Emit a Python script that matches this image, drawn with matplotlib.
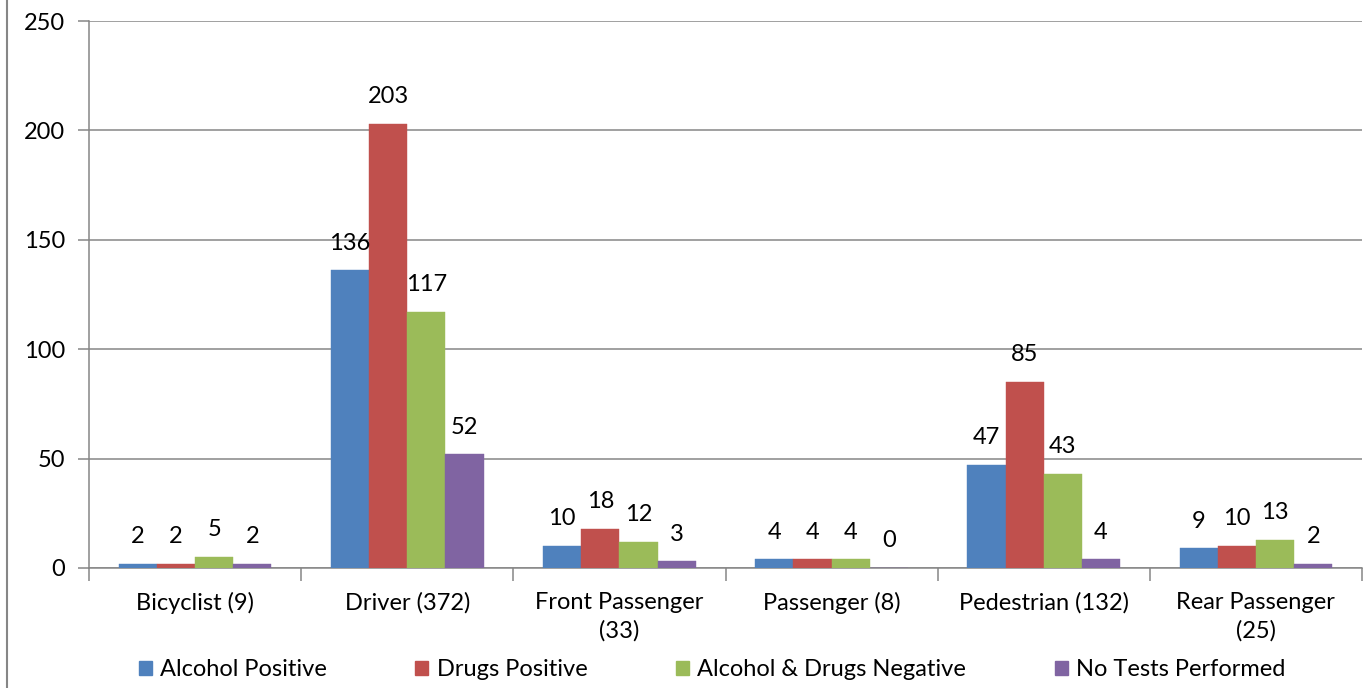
import matplotlib
matplotlib.use("Agg")
import matplotlib.pyplot as plt
from matplotlib.lines import Line2D
import numpy as np

categories = ["Bicyclist (9)", "Driver (372)", "Front Passenger\n(33)", "Passenger (8)",
              "Pedestrian (132)", "Rear Passenger\n(25)"]
series_names = ["Alcohol Positive", "Drugs Positive", "Alcohol & Drugs Negative", "No Tests Performed"]
alcohol_positive = [2, 136, 10, 4, 47, 9]
drugs_positive = [2, 203, 18, 4, 85, 10]
alc_drugs_negative = [5, 117, 12, 4, 43, 13]
no_tests = [2, 52, 3, 0, 4, 2]
y_ticks = [0, 50, 100, 150, 200, 250]

colors = ["#4F81BD", "#C0504D", "#9BBB59", "#8064A2"]
grey = "#868686"
FS = 17

plt.rcParams['font.family'] = ['Lato', 'DejaVu Sans']

W, H = 1371, 688
fig = plt.figure(figsize=(W / 100, H / 100), dpi=100)
ax = fig.add_axes([89 / W, (H - 568) / H, (1362 - 89) / W, (568 - 21) / H])

x = np.arange(len(categories))
bw = 0.18
all_series = [alcohol_positive, drugs_positive, alc_drugs_negative, no_tests]
for i, (vals, name, c) in enumerate(zip(all_series, series_names, colors)):
    pos = x + (i - 1.5) * bw
    ax.bar(pos, vals, width=bw, color=c, label=name, zorder=3, edgecolor=c, linewidth=0.3)
    for p, v in zip(pos, vals):
        ax.annotate(str(v), (p, v), xytext=(0, 12), textcoords='offset points',
                    ha='center', va='bottom', fontsize=FS, color='black', zorder=4)

ax.set_xlim(-0.5, len(categories) - 0.5)
ax.set_ylim(0, 250)
ax.set_yticks(y_ticks)
ax.set_yticklabels([str(t) for t in y_ticks], fontsize=FS)
ax.yaxis.grid(True, color=grey, linewidth=1.1, zorder=0)
ax.set_axisbelow(True)

ax.set_xticks(x)
ax.set_xticklabels(categories, fontsize=FS, linespacing=1.45)
ax.set_xticks(np.arange(-0.5, len(categories)), minor=True)
ax.tick_params(axis='x', which='major', length=0, pad=17)
ax.tick_params(axis='x', which='minor', length=9, width=1.1, color=grey, direction='out')
ax.tick_params(axis='y', length=8, width=1.1, color=grey, pad=9)

for s in ['top', 'right']:
    ax.spines[s].set_visible(False)
for s in ['left', 'bottom']:
    ax.spines[s].set_color(grey)
    ax.spines[s].set_linewidth(1.1)

# outer chart frame (left edge visible)
fig.add_artist(Line2D([7 / W, 7 / W], [0, 1], color=grey, linewidth=1.5, transform=fig.transFigure))

handles = [plt.Rectangle((0, 0), 1, 1, color=c) for c in colors]
fig.legend(handles, series_names, loc='center', bbox_to_anchor=(712 / W, 1 - 670 / H),
           ncol=4, frameon=False, fontsize=FS, handlelength=0.55, handleheight=0.55,
           handletextpad=0.35, columnspacing=3.75, borderpad=0, borderaxespad=0)

fig.savefig("out.png", dpi=100)
